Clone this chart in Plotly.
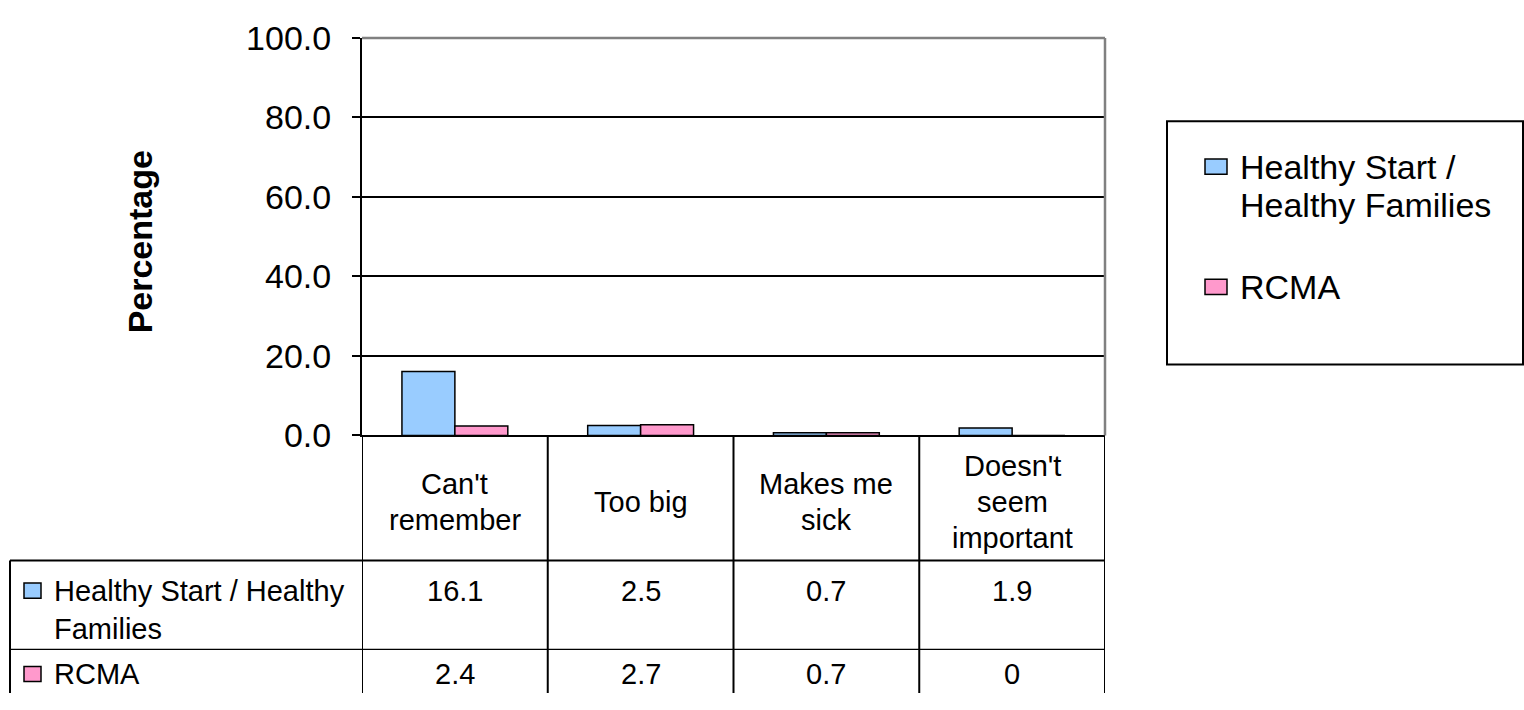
import plotly.graph_objects as go

# ---- data ----
categories = ["Can't remember", "Too big", "Makes me sick", "Doesn't seem important"]
category_labels = ["Can't<br>remember", "Too big", "Makes me<br>sick", "Doesn't<br>seem<br>important"]
series_names = ["Healthy Start / Healthy Families", "RCMA"]
table_row_labels = ["Healthy Start / Healthy<br>Families", "RCMA"]
legend_labels = ["Healthy Start /<br>Healthy Families", "RCMA"]
hs_values = [16.1, 2.5, 0.7, 1.9]
rcma_values = [2.4, 2.7, 0.7, 0]
series_values = [hs_values, rcma_values]
series_colors = ["#99CCFF", "#FF99CC"]
y_ticks = [0, 20, 40, 60, 80, 100]

W, H = 1524, 710
FONT = "Liberation Sans, Arial, sans-serif"


def px(x):
    return x / W


def py(y):
    return 1 - y / H


# plot area in pixels
PL, PR, PT, PB = 362, 1105, 20, 440

fig = go.Figure()
for name, vals, col in zip(series_names, series_values, series_colors):
    fig.add_trace(go.Bar(
        x=categories, y=vals, name=name,
        marker=dict(color=col, line=dict(color="black", width=1.5)),
        showlegend=False, hoverinfo="x+y+name",
    ))

shapes = []
annotations = []

# gray top/right border of the plot area
shapes.append(dict(type="line", xref="paper", yref="paper",
                   x0=px(PL), x1=px(PR), y0=py(PT), y1=py(PT),
                   line=dict(color="#808080", width=2.5), layer="above"))
shapes.append(dict(type="line", xref="paper", yref="paper",
                   x0=px(PR), x1=px(PR), y0=py(PT), y1=py(PB),
                   line=dict(color="#808080", width=2.5), layer="above"))

# ---- data table ----
TABLE_LEFT = 10
HEADER_BOTTOM = 572
ROW_SEP = 666
TABLE_BOTTOM = 712
n = len(categories)
for i in range(n + 1):
    shapes.append(dict(type="line", xref="x", yref="paper",
                       x0=i - 0.5, x1=i - 0.5, y0=py(PB), y1=py(TABLE_BOTTOM),
                       line=dict(color="black", width=2)))
shapes.append(dict(type="line", xref="paper", yref="paper",
                   x0=px(TABLE_LEFT), x1=px(TABLE_LEFT), y0=py(HEADER_BOTTOM), y1=py(TABLE_BOTTOM),
                   line=dict(color="black", width=2)))
shapes.append(dict(type="line", xref="paper", yref="paper",
                   x0=px(TABLE_LEFT), x1=px(PR), y0=py(HEADER_BOTTOM), y1=py(HEADER_BOTTOM),
                   line=dict(color="black", width=2)))
shapes.append(dict(type="line", xref="paper", yref="paper",
                   x0=px(TABLE_LEFT), x1=px(PR), y0=py(ROW_SEP), y1=py(ROW_SEP),
                   line=dict(color="black", width=1.3)))

TFS = 29
HEADER_MID = 510
LINE_H = 38
for cat, lab in zip(categories, category_labels):
    lines = lab.split("<br>")
    k = len(lines)
    for j, ln in enumerate(lines):
        yy = HEADER_MID + (j - (k - 1) / 2) * LINE_H
        annotations.append(dict(xref="x", yref="paper", x=cat, y=py(yy),
                                text=ln, showarrow=False, xanchor="center", yanchor="middle",
                                font=dict(size=TFS, family=FONT, color="black")))

row_text_y = [604, 692]
for r, (lab, vals, col) in enumerate(zip(table_row_labels, series_values, series_colors)):
    y0 = row_text_y[r]
    shapes.append(dict(type="rect", xref="paper", yref="paper",
                       x0=px(24), x1=px(41), y0=py(y0 - 8), y1=py(y0 + 8),
                       fillcolor=col, line=dict(color="black", width=1.5)))
    for j, ln in enumerate(lab.split("<br>")):
        annotations.append(dict(xref="paper", yref="paper", x=px(52), y=py(y0 + 40 * j),
                                text=ln, showarrow=False, xanchor="left", yanchor="middle",
                                font=dict(size=TFS, family=FONT, color="black")))
    for cat, v in zip(categories, vals):
        annotations.append(dict(xref="x", yref="paper", x=cat, y=py(y0),
                                text=f"{v:g}", showarrow=False, xanchor="center", yanchor="middle",
                                font=dict(size=TFS, family=FONT, color="black")))

# ---- legend box ----
shapes.append(dict(type="rect", xref="paper", yref="paper",
                   x0=px(1167), x1=px(1523), y0=py(108), y1=py(365),
                   line=dict(color="black", width=2), fillcolor="rgba(0,0,0,0)"))
legend_y = [156, 283]
for lab, col, y0 in zip(legend_labels, series_colors, legend_y):
    shapes.append(dict(type="rect", xref="paper", yref="paper",
                       x0=px(1205), x1=px(1227), y0=py(y0 - 8), y1=py(y0 + 8),
                       fillcolor=col, line=dict(color="black", width=1.5)))
    for j, ln in enumerate(lab.split("<br>")):
        annotations.append(dict(xref="paper", yref="paper", x=px(1238), y=py(y0 + 41 * j),
                                text=ln, showarrow=False, xanchor="left", yanchor="middle",
                                font=dict(size=34, family=FONT, color="black")))

# y axis title
annotations.append(dict(xref="paper", yref="paper", x=px(140), y=py(236),
                        text="<b>Percentage</b>", textangle=-90, showarrow=False,
                        xanchor="center", yanchor="middle",
                        font=dict(size=34, family=FONT, color="black")))

fig.update_layout(
    width=W, height=H, autosize=False,
    margin=dict(l=0, r=0, t=0, b=0),
    paper_bgcolor="white", plot_bgcolor="white",
    barmode="group", bargap=0.43, bargroupgap=0,
    showlegend=False,
    font=dict(family=FONT, color="black"),
    xaxis=dict(domain=[px(PL), px(PR)], range=[-0.5, n - 0.5], showticklabels=False,
               ticks="", showgrid=False, showline=True, linecolor="black", linewidth=2,
               zeroline=False, fixedrange=True),
    yaxis=dict(domain=[py(PB), py(PT)], range=[0, 100], tickvals=y_ticks,
               ticktext=[f"{t:.1f}" for t in y_ticks],
               ticks="outside", ticklen=8, tickwidth=1.5, tickcolor="black",
               showline=True, linecolor="black", linewidth=2,
               showgrid=True, gridcolor="black", gridwidth=1.5, zeroline=False,
               tickfont=dict(size=34, family=FONT, color="black"),
               ticklabelstandoff=14, fixedrange=True),
    shapes=shapes,
    annotations=annotations,
)

fig.write_html("out.html")
